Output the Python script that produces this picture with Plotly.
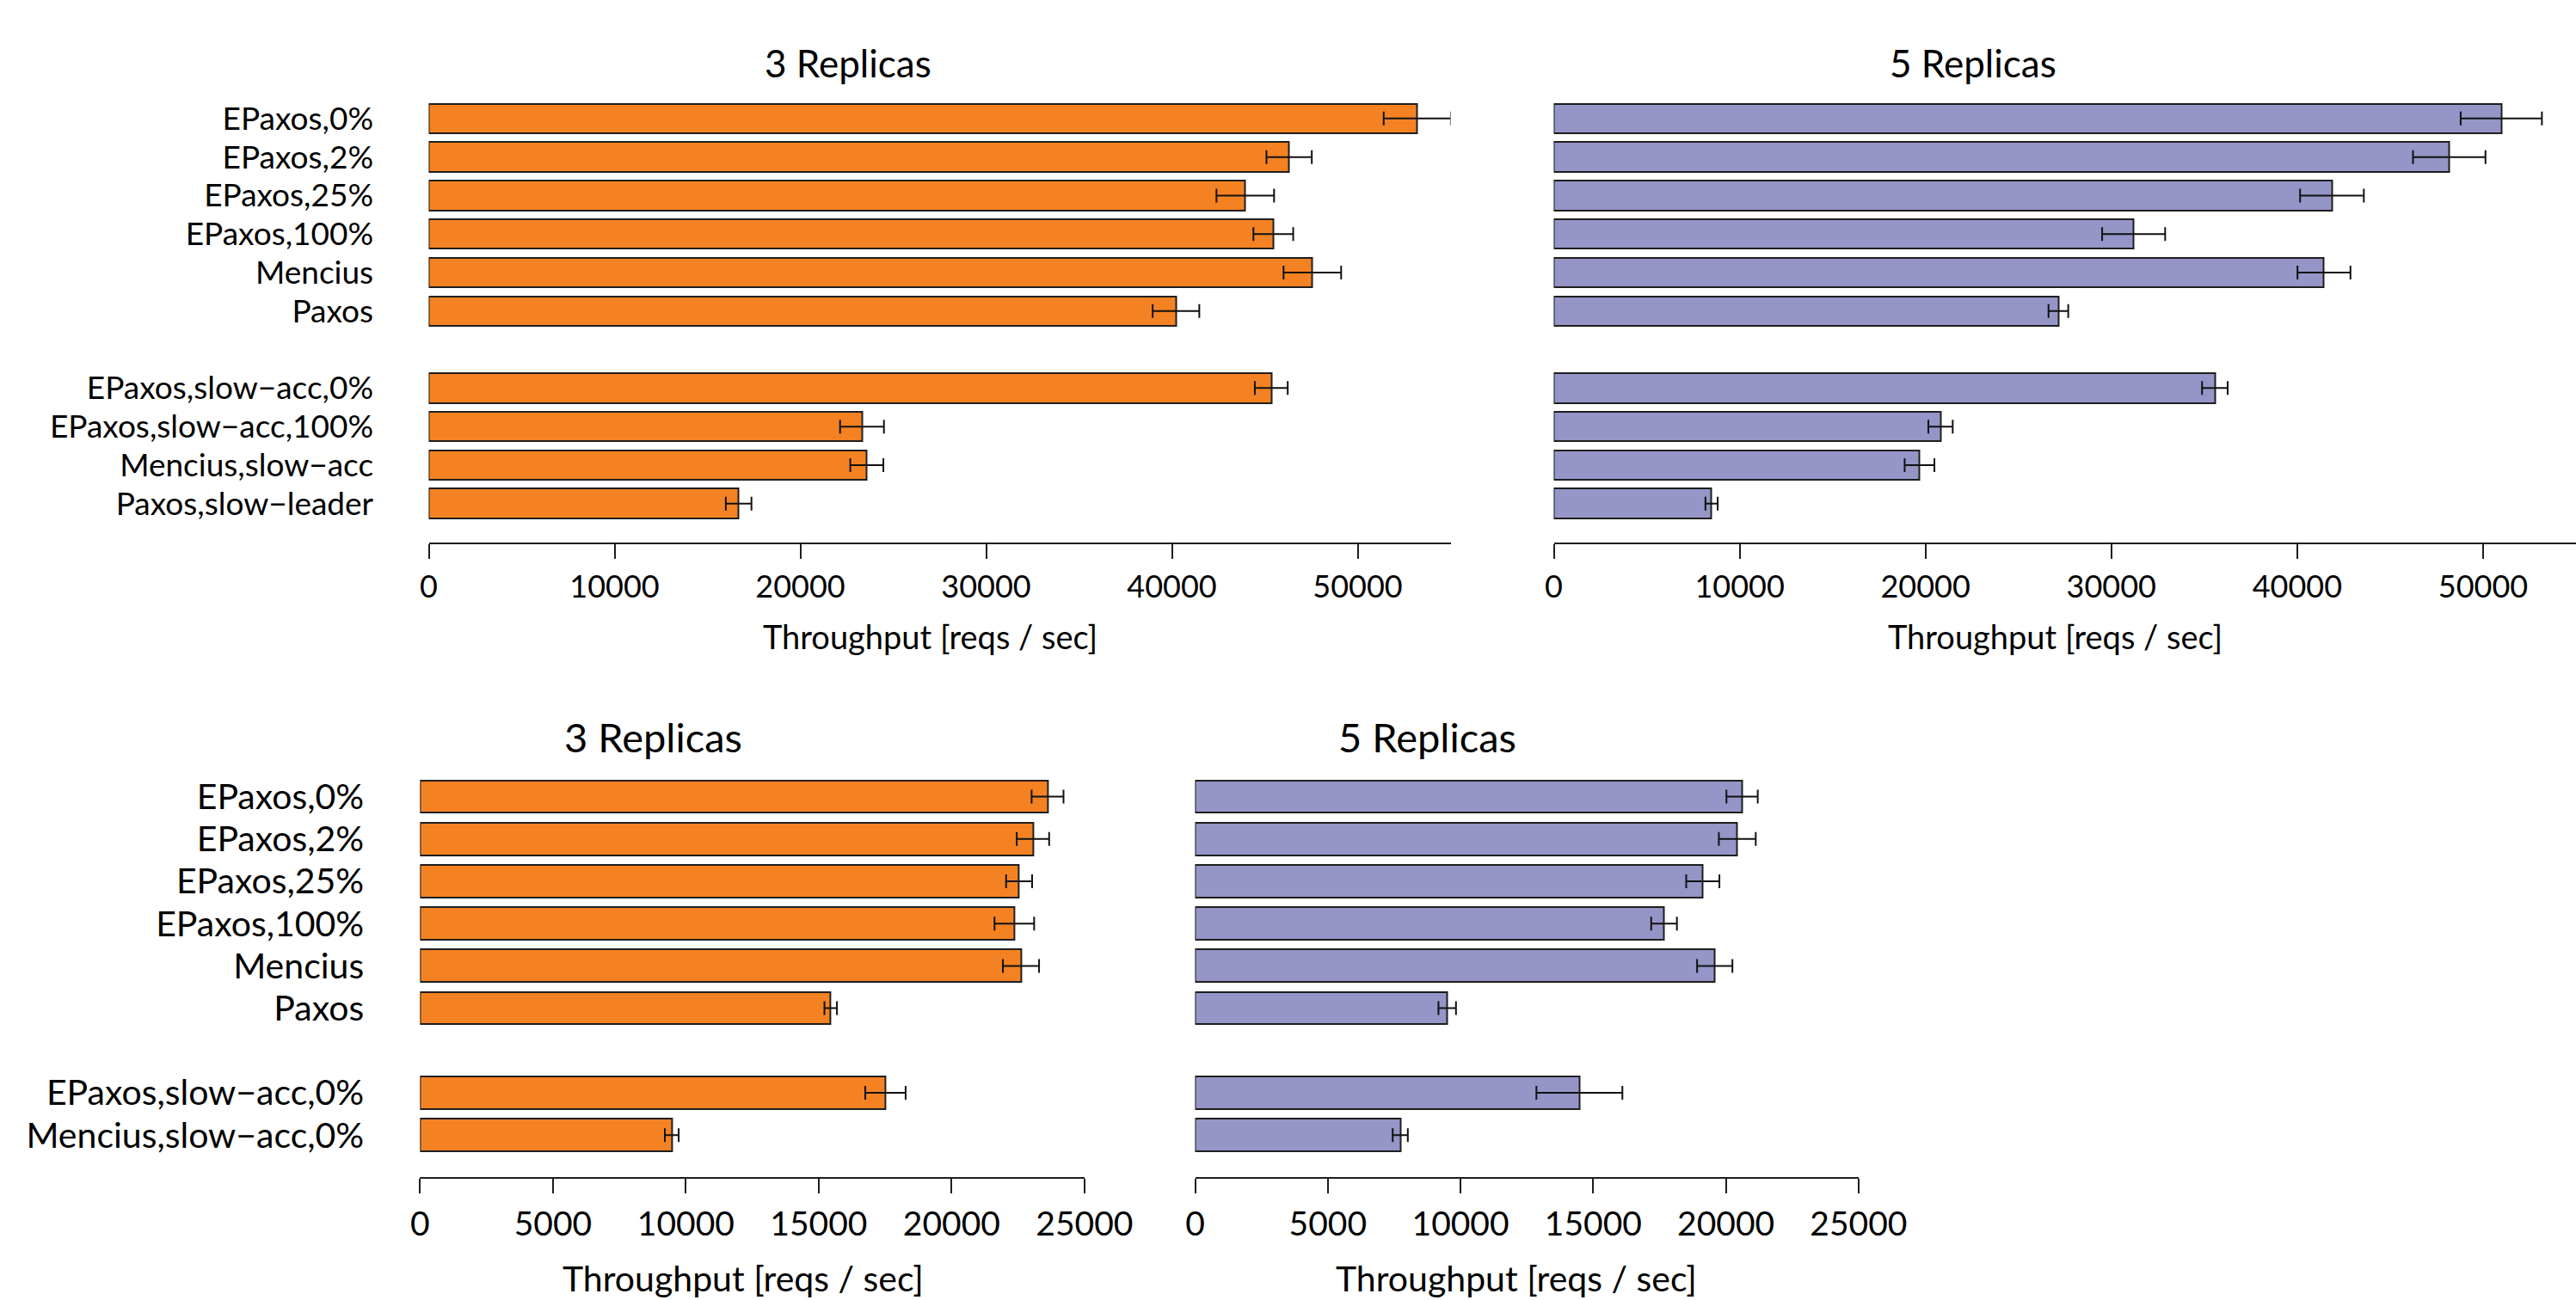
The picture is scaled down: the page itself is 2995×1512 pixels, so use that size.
import plotly.graph_objects as go

# ---------------- data ----------------
top_labels = ["EPaxos,0%", "EPaxos,2%", "EPaxos,25%", "EPaxos,100%", "Mencius", "Paxos",
              "EPaxos,slow\u2212acc,0%", "EPaxos,slow\u2212acc,100%", "Mencius,slow\u2212acc",
              "Paxos,slow\u2212leader"]
top_groups = [6, 4]

top3_vals = [53210, 46310, 43950, 45460, 47560, 40220, 45350, 23320, 23580, 16680]
top3_errs = [1810, 1220, 1550, 1070, 1550, 1255, 885, 1180, 890, 690]

top5_vals = [50980, 48180, 41870, 31200, 41440, 27150, 35570, 20810, 19680, 8490]
top5_errs = [2185, 1950, 1715, 1695, 1425, 530, 690, 655, 800, 330]

bot_labels = ["EPaxos,0%", "EPaxos,2%", "EPaxos,25%", "EPaxos,100%", "Mencius", "Paxos",
              "EPaxos,slow\u2212acc,0%", "Mencius,slow\u2212acc,0%"]
bot_groups = [6, 2]

bot3_vals = [23610, 23060, 22540, 22360, 22610, 15450, 17510, 9470]
bot3_errs = [600, 610, 490, 745, 680, 235, 760, 260]

bot5_vals = [20610, 20430, 19130, 17670, 19580, 9500, 14480, 7730]
bot5_errs = [590, 695, 625, 485, 665, 330, 1620, 285]

top_ticks = [0, 10000, 20000, 30000, 40000, 50000]
bot_ticks = [0, 5000, 10000, 15000, 20000, 25000]

panel_title = ["3 Replicas", "5 Replicas"]
axis_title = "Throughput [reqs / sec]"

# ---------------- styling ----------------
ORANGE = "#F48222"
PURPLE = "#9595C8"
EDGE = "#1e1e1e"
FONT = "Lato"
W, H = 2995, 1512


def slots(groups):
    pos, s = [], 0
    for g in groups:
        pos.extend(range(s, s + g))
        s += g + 1
    return pos


top_pos = slots(top_groups)
bot_pos = slots(bot_groups)

fig = go.Figure()


def add_bars(vals, errs, pos, color, ax):
    fig.add_trace(go.Bar(
        x=vals, y=pos, orientation="h", width=0.77,
        marker=dict(color=color, line=dict(color=EDGE, width=2)),
        error_x=dict(type="data", array=errs, visible=True, color="#111111",
                     thickness=2, width=8),
        xaxis="x" + ax, yaxis="y" + ax, showlegend=False,
        hoverinfo="skip"))


add_bars(top3_vals, top3_errs, top_pos, ORANGE, "")
add_bars(top5_vals, top5_errs, top_pos, PURPLE, "2")
add_bars(bot3_vals, bot3_errs, bot_pos, ORANGE, "3")
add_bars(bot5_vals, bot5_errs, bot_pos, PURPLE, "4")


def px_x(v):
    return v / W


def px_y(v):
    return 1 - v / H


top_fs, bot_fs = 36, 39

def xaxis(domain, rng, ticks, yname, fs):
    return dict(domain=domain, range=rng, anchor=yname, tickvals=ticks,
                ticktext=[str(t) for t in ticks], automargin=False,
                showline=True, linecolor=EDGE, linewidth=2, ticks="outside",
                ticklen=17, tickwidth=2, tickcolor=EDGE, showgrid=False,
                zeroline=False, tickfont=dict(family=FONT, size=fs, color="#000"),
                ticklabelstandoff=2, fixedrange=True)


def yaxis(domain, rng, pos, labels, xname, fs, show):
    return dict(domain=domain, range=rng, anchor=xname, tickvals=pos,
                ticktext=labels, showticklabels=show, showline=False,
                automargin=False,
                showgrid=False, zeroline=False, ticks="outside" if show else "",
                ticklen=56, tickcolor="rgba(0,0,0,0)",
                tickfont=dict(family=FONT, size=fs, color="#000"), fixedrange=True)


top_ydom = [px_y(630.5), px_y(111.0)]
bot_ydom = [px_y(1369.4), px_y(897.1)]

fig.update_layout(
    width=W, height=H, autosize=False, margin=dict(l=0, r=0, t=0, b=0, pad=0),
    paper_bgcolor="white", plot_bgcolor="white", bargap=0,
    xaxis=xaxis([px_x(498.5), px_x(1686.5)], [0, 55000], top_ticks, "y", top_fs),
    yaxis=yaxis(top_ydom, [11, -0.6], top_pos, top_labels, "x", 37, True),
    xaxis2=xaxis([px_x(1806.5), 1.0], [0, 55000], top_ticks, "y2", top_fs),
    yaxis2=yaxis(top_ydom, [11, -0.6], top_pos, top_labels, "x2", top_fs, False),
    xaxis3=xaxis([px_x(488.4), px_x(1260.9)], [0, 25000], bot_ticks, "y3", bot_fs),
    yaxis3=yaxis(bot_ydom, [9, -0.6], bot_pos, bot_labels, "x3", 41, True),
    xaxis4=xaxis([px_x(1389.5), px_x(2160.9)], [0, 25000], bot_ticks, "y4", bot_fs),
    yaxis4=yaxis(bot_ydom, [9, -0.6], bot_pos, bot_labels, "x4", bot_fs, False),
)

ann = []
for (x, y, txt, fs) in [
    (985.6, 72.6, panel_title[0], 44), (2294, 72.6, panel_title[1], 44),
    (759, 856.5, panel_title[0], 47), (1659, 856.5, panel_title[1], 47),
    (1081.5, 739.7, axis_title, 38), (2389, 739.7, axis_title, 38),
    (864, 1486, axis_title, 41), (1763, 1486, axis_title, 41),
]:
    ann.append(dict(x=px_x(x), y=px_y(y), xref="paper", yref="paper", text=txt,
                    showarrow=False, xanchor="center", yanchor="middle",
                    font=dict(family=FONT, size=fs, color="#000")))
fig.update_layout(annotations=ann)

fig.write_html("out.html",
               config={"responsive": False, "displayModeBar": False},
               post_script="document.body.style.margin='0';"
                           "document.body.style.overflow='hidden';")
